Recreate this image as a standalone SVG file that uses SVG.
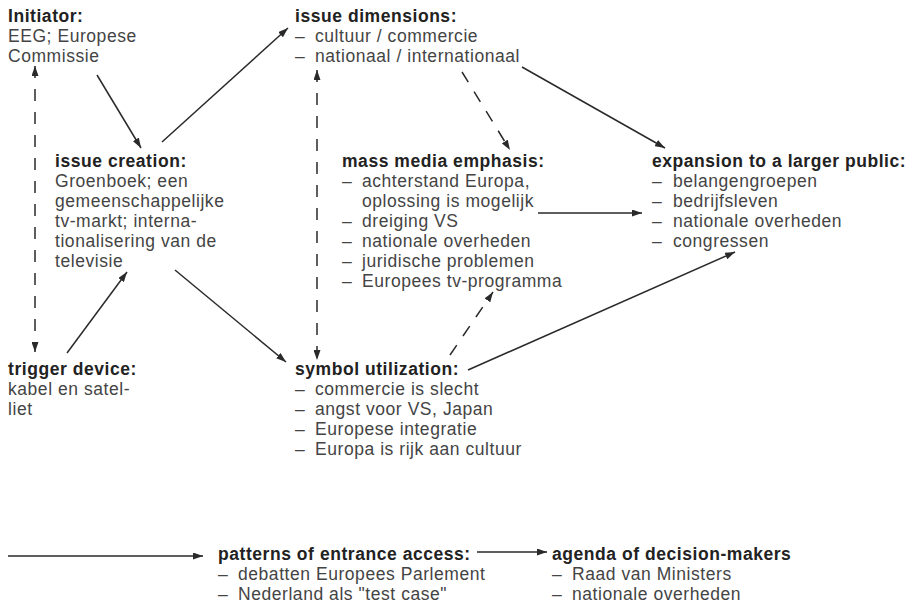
<svg xmlns="http://www.w3.org/2000/svg" width="910" height="605" viewBox="0 0 910 605">
<style>
.h{font-family:"Liberation Sans",Arial,sans-serif;font-weight:bold;font-size:17.5px;fill:#222;letter-spacing:.55px}
.t{font-family:"Liberation Sans",Arial,sans-serif;font-size:17.5px;fill:#444;letter-spacing:.55px}
.c{fill:none;stroke:#2a2a2a;stroke-width:1.5;marker-end:url(#ah)}
.d{stroke-dasharray:12 11}
.b{marker-start:url(#ah)}
</style>
<defs>
<marker id="ah" markerUnits="userSpaceOnUse" markerWidth="11" markerHeight="7" refX="10" refY="3.5" orient="auto-start-reverse">
<path d="M0,0 L10,3.5 L0,7 z" fill="#2a2a2a"/>
</marker>
</defs>
<rect width="910" height="605" fill="#fff"/>

<g id="connectors">
<line class="c d b" x1="35" y1="66" x2="35" y2="352"/>
<line class="c" x1="97" y1="75" x2="141" y2="148"/>
<line class="c" x1="162" y1="142" x2="288" y2="28"/>
<line class="c" x1="522" y1="67" x2="665" y2="148"/>
<line class="c d" x1="462" y1="72" x2="510" y2="150"/>
<line class="c d b" x1="317" y1="70" x2="317" y2="360"/>
<line class="c" x1="175" y1="270" x2="286" y2="362"/>
<line class="c" x1="67" y1="353" x2="127" y2="272"/>
<line class="c" x1="538" y1="213" x2="642" y2="213"/>
<line class="c d" x1="450" y1="355" x2="493" y2="292"/>
<line class="c" x1="468" y1="370" x2="735" y2="252"/>
<line class="c" x1="8" y1="556" x2="203" y2="556"/>
<line class="c" x1="477" y1="552" x2="547" y2="552"/>
</g>

<g id="initiator">
<text class="h" x="8" y="22">Initiator:</text>
<text class="t" x="8" y="42">EEG; Europese</text>
<text class="t" x="8" y="62">Commissie</text>
</g>

<g id="issue-dimensions">
<text class="h" x="295" y="22">issue dimensions:</text>
<text class="t" y="42"><tspan x="295">–</tspan><tspan x="315">cultuur / commercie</tspan></text>
<text class="t" y="62"><tspan x="295">–</tspan><tspan x="315">nationaal / internationaal</tspan></text>
</g>

<g id="issue-creation">
<text class="h" x="55" y="167">issue creation:</text>
<text class="t" x="55" y="187">Groenboek; een</text>
<text class="t" x="55" y="207">gemeenschappelijke</text>
<text class="t" x="55" y="227">tv-markt; interna-</text>
<text class="t" x="55" y="247">tionalisering van de</text>
<text class="t" x="55" y="267">televisie</text>
</g>

<g id="mass-media">
<text class="h" x="342" y="167">mass media emphasis:</text>
<text class="t" y="187"><tspan x="342">–</tspan><tspan x="362">achterstand Europa,</tspan></text>
<text class="t" x="362" y="207">oplossing is mogelijk</text>
<text class="t" y="227"><tspan x="342">–</tspan><tspan x="362">dreiging VS</tspan></text>
<text class="t" y="247"><tspan x="342">–</tspan><tspan x="362">nationale overheden</tspan></text>
<text class="t" y="267"><tspan x="342">–</tspan><tspan x="362">juridische problemen</tspan></text>
<text class="t" y="287"><tspan x="342">–</tspan><tspan x="362">Europees tv-programma</tspan></text>
</g>

<g id="expansion">
<text class="h" x="652" y="167">expansion to a larger public:</text>
<text class="t" y="187"><tspan x="652">–</tspan><tspan x="673">belangengroepen</tspan></text>
<text class="t" y="207"><tspan x="652">–</tspan><tspan x="673">bedrijfsleven</tspan></text>
<text class="t" y="227"><tspan x="652">–</tspan><tspan x="673">nationale overheden</tspan></text>
<text class="t" y="247"><tspan x="652">–</tspan><tspan x="673">congressen</tspan></text>
</g>

<g id="trigger-device">
<text class="h" x="8" y="375">trigger device:</text>
<text class="t" x="8" y="395">kabel en satel-</text>
<text class="t" x="8" y="415">liet</text>
</g>

<g id="symbol-utilization">
<text class="h" x="295" y="375">symbol utilization:</text>
<text class="t" y="395"><tspan x="295">–</tspan><tspan x="315">commercie is slecht</tspan></text>
<text class="t" y="415"><tspan x="295">–</tspan><tspan x="315">angst voor VS, Japan</tspan></text>
<text class="t" y="435"><tspan x="295">–</tspan><tspan x="315">Europese integratie</tspan></text>
<text class="t" y="455"><tspan x="295">–</tspan><tspan x="315">Europa is rijk aan cultuur</tspan></text>
</g>

<g id="patterns">
<text class="h" x="218" y="560">patterns of entrance access:</text>
<text class="t" y="580"><tspan x="218">–</tspan><tspan x="238">debatten Europees Parlement</tspan></text>
<text class="t" y="600"><tspan x="218">–</tspan><tspan x="238">Nederland als "test case"</tspan></text>
</g>

<g id="agenda">
<text class="h" x="552" y="560">agenda of decision-makers</text>
<text class="t" y="580"><tspan x="552">–</tspan><tspan x="572">Raad van Ministers</tspan></text>
<text class="t" y="600"><tspan x="552">–</tspan><tspan x="572">nationale overheden</tspan></text>
</g>
</svg>
